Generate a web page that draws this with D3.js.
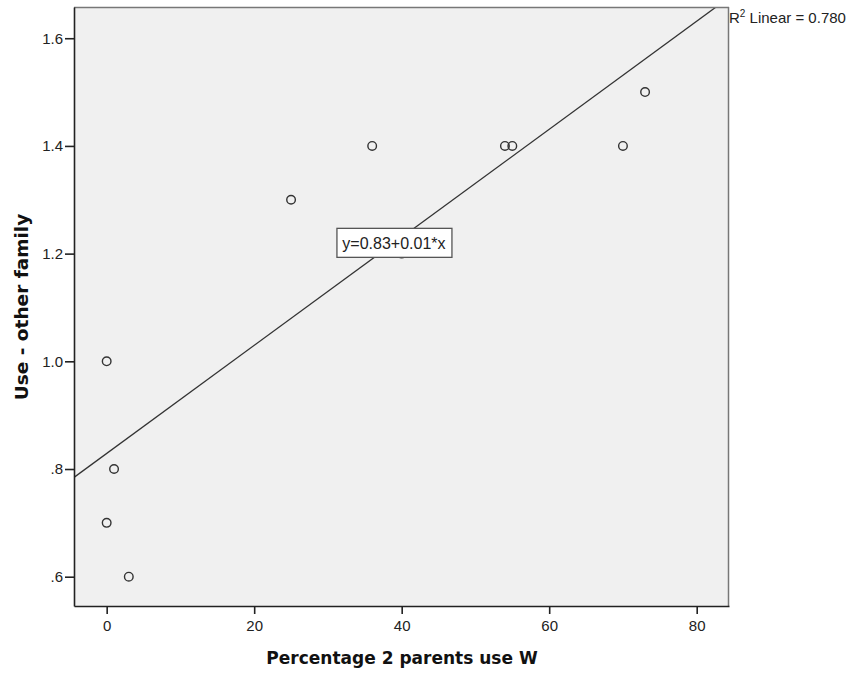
<!DOCTYPE html>
<html><head><meta charset="utf-8">
<script src="https://cdn.jsdelivr.net/npm/d3@7"></script>
<style>body{margin:0;background:#fff}</style>
</head><body><svg id="c" width="847" height="673" style="font-family:'Liberation Sans',Arial,sans-serif"></svg>
<script>
const xValues = [0, 1, 0, 3, 25, 36, 40, 54, 55, 70, 73];
const yValues = [1.0, 0.8, 0.7, 0.6, 1.3, 1.4, 1.2, 1.4, 1.4, 1.4, 1.5];
const xTicks = [0, 20, 40, 60, 80];
const yTicks = [0.6, 0.8, 1.0, 1.2, 1.4, 1.6];
const xTitle = "Percentage 2 parents use W";
const yTitle = "Use - other family";
const eqLabel = "y=0.83+0.01*x";
const r2Label = "0.780";

const svg = d3.select("#c");
const L = 74, R = 729, T = 7, B = 606;
const x = d3.scaleLinear().domain([-4.43, 84.38]).range([L, R]);
const y = d3.scaleLinear().domain([0.5456, 1.658]).range([B, T]);

svg.append("rect").attr("x", L).attr("y", T).attr("width", R - L).attr("height", B - T).attr("fill", "#f0f0f0");
svg.append("clipPath").attr("id", "clip").append("rect").attr("x", L).attr("y", T).attr("width", R - L).attr("height", B - T);

// regression line
const n = xValues.length;
const mx = d3.mean(xValues), my = d3.mean(yValues);
let sxy = 0, sxx = 0;
for (let i = 0; i < n; i++) { sxy += (xValues[i] - mx) * (yValues[i] - my); sxx += (xValues[i] - mx) ** 2; }
const slope = sxy / sxx, icpt = my - slope * mx;
const xd = x.domain();
svg.append("line").attr("clip-path", "url(#clip)")
  .attr("x1", x(xd[0])).attr("y1", y(icpt + slope * xd[0]))
  .attr("x2", x(xd[1])).attr("y2", y(icpt + slope * xd[1]))
  .attr("stroke", "#333").attr("stroke-width", 1.3);

// points
svg.append("g").selectAll("circle").data(xValues).join("circle")
  .attr("cx", (d) => x(d)).attr("cy", (d, i) => y(yValues[i])).attr("r", 4.3)
  .attr("fill", "none").attr("stroke", "#333").attr("stroke-width", 1.4);

// frame
svg.append("line").attr("x1", L).attr("x2", R).attr("y1", T + 0.5).attr("y2", T + 0.5).attr("stroke", "#777").attr("stroke-width", 1.5);
svg.append("line").attr("x1", R - 0.5).attr("x2", R - 0.5).attr("y1", T).attr("y2", B).attr("stroke", "#777").attr("stroke-width", 1.5);

// axes
const xa = svg.append("g").attr("transform", `translate(0,${B})`)
  .call(d3.axisBottom(x).tickValues(xTicks).tickSize(8).tickPadding(6).tickSizeOuter(0));
const ya = svg.append("g").attr("transform", `translate(${L},0)`)
  .call(d3.axisLeft(y).tickValues(yTicks).tickSize(9).tickPadding(2).tickSizeOuter(0)
    .tickFormat(d => d3.format(".1f")(d).replace(/^0\./, ".")));
[xa, ya].forEach(a => {
  a.attr("font-family", null).attr("font-size", null);
  a.select(".domain").attr("stroke", "#222").attr("stroke-width", 1.6);
  a.selectAll(".tick line").attr("stroke", "#222").attr("stroke-width", 1.6);
  a.selectAll(".tick text").style("font-size", "15px").attr("fill", "#222").style("font-family", "'Liberation Sans', Arial, sans-serif");
});

// equation label
const eg = svg.append("g").attr("transform", `translate(${x(38.95)},${y(1.22)})`);
eg.append("rect").attr("x", -57).attr("y", -14.5).attr("width", 115).attr("height", 29)
  .attr("fill", "#fff").attr("stroke", "#555").attr("stroke-width", 1.3);
eg.append("text").attr("text-anchor", "middle").attr("dy", "0.36em").style("font-size", "16px").attr("fill", "#222").text(eqLabel);

// R2 label
const rt = svg.append("text").attr("x", R).attr("y", 23).style("font-size", "15px").attr("fill", "#222");
rt.append("tspan").text("R");
rt.append("tspan").style("font-size", "10px").attr("dy", -6).text("2");
rt.append("tspan").attr("dy", 6).text(" Linear = " + r2Label);

// titles
svg.append("text").attr("x", 402).attr("y", 664).attr("text-anchor", "middle")
  .style("font-family", "'DejaVu Sans', sans-serif")
  .style("font-size", "17px").attr("font-weight", "bold").attr("fill", "#111").text(xTitle);
svg.append("text").attr("transform", `translate(28,307) rotate(-90)`).attr("text-anchor", "middle")
  .style("font-family", "'DejaVu Sans', sans-serif")
  .style("font-size", "18.5px").attr("font-weight", "bold").attr("fill", "#111").text(yTitle);
</script></body></html>
